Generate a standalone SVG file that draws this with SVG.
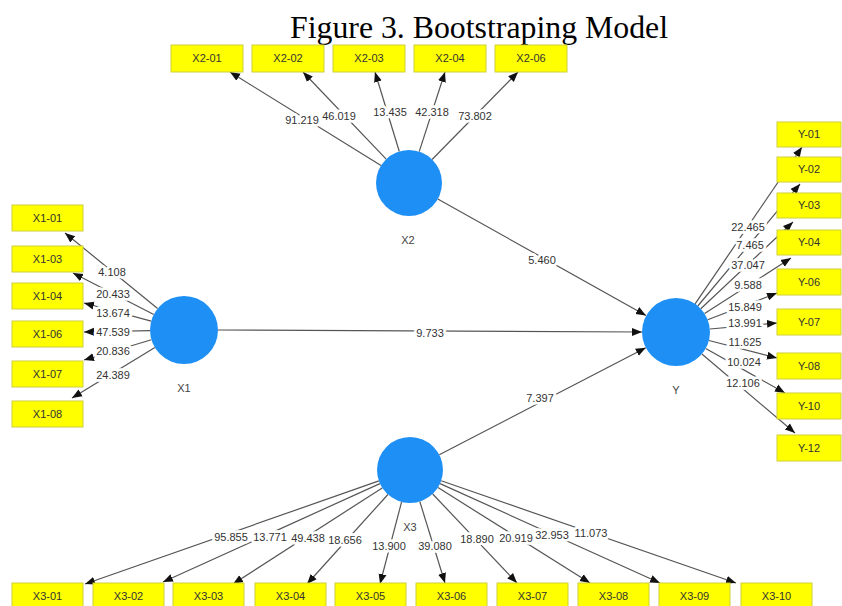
<svg xmlns="http://www.w3.org/2000/svg" width="842" height="606" viewBox="0 0 842 606">
<style>
.title{font-family:"Liberation Serif","Times New Roman",serif;font-size:31.8px;fill:#000}
.box{fill:#ffff00;stroke:#cfcf3a;stroke-width:1}
.bt{font-family:"Liberation Sans",Arial,sans-serif;font-size:11px;fill:#333;text-anchor:middle}
.lv{fill:#1e8ff5}
.lt{font-family:"Liberation Sans",Arial,sans-serif;font-size:11px;fill:#444;text-anchor:middle}
.ln{stroke:#555;stroke-width:1.2;fill:none;marker-end:url(#ah)}
.v{font-family:"Liberation Sans",Arial,sans-serif;font-size:11px;fill:#333;text-anchor:middle;stroke:#fff;stroke-width:5.5px;paint-order:stroke;stroke-linejoin:round}
</style>
<defs>
<marker id="ah" markerUnits="userSpaceOnUse" markerWidth="10" markerHeight="10" viewBox="0 0 10 10" refX="10" refY="5" orient="auto">
<path d="M0,1 L10,5 L0,9 Z" fill="#111"/>
</marker>
</defs>
<rect width="842" height="606" fill="#fff"/>
<text class="title" x="290" y="38">Figure 3. Bootstraping Model</text>

<g id="connectors">
<!-- X2 indicators -->
<line class="ln" x1="381" y1="165.6" x2="230" y2="72"/>
<line class="ln" x1="386.2" y1="159.1" x2="303" y2="72"/>
<line class="ln" x1="399.3" y1="151.5" x2="375" y2="72"/>
<line class="ln" x1="419.2" y1="151.6" x2="445" y2="72"/>
<line class="ln" x1="432.1" y1="159.5" x2="518" y2="72"/>
<!-- X1 indicators -->
<line class="ln" x1="157.6" y1="308.5" x2="65" y2="233"/>
<line class="ln" x1="153.8" y1="314.5" x2="73" y2="273"/>
<line class="ln" x1="151.2" y1="321.1" x2="84" y2="303"/>
<line class="ln" x1="150" y1="330.7" x2="84" y2="332"/>
<line class="ln" x1="151.4" y1="339.8" x2="84" y2="360"/>
<line class="ln" x1="154.9" y1="347.6" x2="72" y2="398"/>
<!-- Y indicators -->
<line class="ln" x1="695.1" y1="303.9" x2="802" y2="147"/>
<line class="ln" x1="697.8" y1="306" x2="800" y2="184"/>
<line class="ln" x1="700.8" y1="308.7" x2="793" y2="222"/>
<line class="ln" x1="704.6" y1="313.6" x2="791" y2="258"/>
<line class="ln" x1="707.7" y1="319.8" x2="777" y2="293"/>
<line class="ln" x1="709.9" y1="329" x2="777" y2="323"/>
<line class="ln" x1="708.9" y1="340.5" x2="777" y2="358"/>
<line class="ln" x1="705.7" y1="348.6" x2="785" y2="393"/>
<line class="ln" x1="701.9" y1="354" x2="795" y2="433"/>
<!-- X3 indicators -->
<line class="ln" x1="378.9" y1="480.9" x2="85" y2="584"/>
<line class="ln" x1="379.9" y1="483.6" x2="163" y2="582"/>
<line class="ln" x1="382.2" y1="487.9" x2="233" y2="584"/>
<line class="ln" x1="387.9" y1="494.5" x2="307" y2="584"/>
<line class="ln" x1="401.6" y1="501.9" x2="380" y2="584"/>
<line class="ln" x1="419.8" y1="501.5" x2="445" y2="583"/>
<line class="ln" x1="432.7" y1="494" x2="517" y2="583"/>
<line class="ln" x1="438" y1="487.6" x2="590" y2="583"/>
<line class="ln" x1="440.1" y1="483.6" x2="660" y2="583"/>
<line class="ln" x1="441.2" y1="480.8" x2="736" y2="583"/>
<!-- structural paths -->
<line class="ln" x1="218" y1="330" x2="642" y2="332"/>
<line class="ln" x1="437.8" y1="199.1" x2="646" y2="315.4"/>
<line class="ln" x1="439.3" y1="454.8" x2="645.8" y2="347.7"/>
<!-- values -->
<text class="v" x="302" y="124">91.219</text>
<text class="v" x="339" y="120">46.019</text>
<text class="v" x="390" y="116">13.435</text>
<text class="v" x="432" y="116">42.318</text>
<text class="v" x="475" y="120">73.802</text>
<text class="v" x="112" y="276">4.108</text>
<text class="v" x="113" y="298">20.433</text>
<text class="v" x="113" y="317">13.674</text>
<text class="v" x="113" y="336">47.539</text>
<text class="v" x="113" y="355">20.836</text>
<text class="v" x="113" y="379">24.389</text>
<text class="v" x="748" y="231">22.465</text>
<text class="v" x="750" y="249">7.465</text>
<text class="v" x="748" y="269">37.047</text>
<text class="v" x="748" y="289">9.588</text>
<text class="v" x="745" y="311">15.849</text>
<text class="v" x="745" y="327">13.991</text>
<text class="v" x="745" y="346">11.625</text>
<text class="v" x="744" y="366">10.024</text>
<text class="v" x="743" y="387">12.106</text>
<text class="v" x="231" y="541">95.855</text>
<text class="v" x="270" y="541">13.771</text>
<text class="v" x="308" y="542">49.438</text>
<text class="v" x="345" y="544">18.656</text>
<text class="v" x="389" y="550">13.900</text>
<text class="v" x="435" y="550">39.080</text>
<text class="v" x="477" y="543">18.890</text>
<text class="v" x="516" y="542">20.919</text>
<text class="v" x="552" y="539">32.953</text>
<text class="v" x="591" y="537">11.073</text>
<text class="v" x="430" y="337">9.733</text>
<text class="v" x="542" y="264">5.460</text>
<text class="v" x="540" y="402">7.397</text>
</g>

<g id="X1">
<circle class="lv" cx="184" cy="330" r="34"/>
<text class="lt" x="184" y="392">X1</text>
</g>
<g id="X2">
<circle class="lv" cx="409" cy="183" r="33"/>
<text class="lt" x="408" y="244">X2</text>
</g>
<g id="X3">
<circle class="lv" cx="410" cy="470" r="33"/>
<text class="lt" x="410" y="531">X3</text>
</g>
<g id="Y">
<circle class="lv" cx="676" cy="332" r="34"/>
<text class="lt" x="676" y="394">Y</text>
</g>

<g id="X2-01"><rect class="box" x="171" y="45" width="72" height="27"/><text class="bt" x="207" y="62">X2-01</text></g>
<g id="X2-02"><rect class="box" x="252" y="45" width="72" height="27"/><text class="bt" x="288" y="62">X2-02</text></g>
<g id="X2-03"><rect class="box" x="333" y="45" width="72" height="27"/><text class="bt" x="369" y="62">X2-03</text></g>
<g id="X2-04"><rect class="box" x="414" y="45" width="72" height="27"/><text class="bt" x="450" y="62">X2-04</text></g>
<g id="X2-06"><rect class="box" x="495" y="45" width="72" height="27"/><text class="bt" x="531" y="62">X2-06</text></g>

<g id="X1-01"><rect class="box" x="12" y="205" width="71" height="26"/><text class="bt" x="47.5" y="222">X1-01</text></g>
<g id="X1-03"><rect class="box" x="12" y="246" width="71" height="26"/><text class="bt" x="47.5" y="263">X1-03</text></g>
<g id="X1-04"><rect class="box" x="12" y="283" width="71" height="26"/><text class="bt" x="47.5" y="300">X1-04</text></g>
<g id="X1-06"><rect class="box" x="12" y="321" width="71" height="26"/><text class="bt" x="47.5" y="338">X1-06</text></g>
<g id="X1-07"><rect class="box" x="12" y="361" width="71" height="26"/><text class="bt" x="47.5" y="378">X1-07</text></g>
<g id="X1-08"><rect class="box" x="12" y="401" width="71" height="26"/><text class="bt" x="47.5" y="418">X1-08</text></g>

<g id="Y-01"><rect class="box" x="777" y="122" width="64" height="25"/><text class="bt" x="809" y="138">Y-01</text></g>
<g id="Y-02"><rect class="box" x="777" y="157" width="64" height="25"/><text class="bt" x="809" y="173">Y-02</text></g>
<g id="Y-03"><rect class="box" x="777" y="193" width="64" height="25"/><text class="bt" x="809" y="209">Y-03</text></g>
<g id="Y-04"><rect class="box" x="777" y="230" width="64" height="25"/><text class="bt" x="809" y="246">Y-04</text></g>
<g id="Y-06"><rect class="box" x="777" y="269" width="64" height="26"/><text class="bt" x="809" y="286">Y-06</text></g>
<g id="Y-07"><rect class="box" x="777" y="309" width="64" height="26"/><text class="bt" x="809" y="326">Y-07</text></g>
<g id="Y-08"><rect class="box" x="777" y="353" width="64" height="26"/><text class="bt" x="809" y="370">Y-08</text></g>
<g id="Y-10"><rect class="box" x="777" y="393" width="64" height="26"/><text class="bt" x="809" y="410">Y-10</text></g>
<g id="Y-12"><rect class="box" x="777" y="435" width="64" height="26"/><text class="bt" x="809" y="452">Y-12</text></g>

<g id="X3-01"><rect class="box" x="12" y="583" width="71" height="26"/><text class="bt" x="47.5" y="600">X3-01</text></g>
<g id="X3-02"><rect class="box" x="93" y="583" width="71" height="26"/><text class="bt" x="128.5" y="600">X3-02</text></g>
<g id="X3-03"><rect class="box" x="173" y="583" width="71" height="26"/><text class="bt" x="208.5" y="600">X3-03</text></g>
<g id="X3-04"><rect class="box" x="255" y="583" width="71" height="26"/><text class="bt" x="290.5" y="600">X3-04</text></g>
<g id="X3-05"><rect class="box" x="335" y="583" width="71" height="26"/><text class="bt" x="370.5" y="600">X3-05</text></g>
<g id="X3-06"><rect class="box" x="416" y="583" width="71" height="26"/><text class="bt" x="451.5" y="600">X3-06</text></g>
<g id="X3-07"><rect class="box" x="497" y="583" width="71" height="26"/><text class="bt" x="532.5" y="600">X3-07</text></g>
<g id="X3-08"><rect class="box" x="578" y="583" width="71" height="26"/><text class="bt" x="613.5" y="600">X3-08</text></g>
<g id="X3-09"><rect class="box" x="659" y="583" width="71" height="26"/><text class="bt" x="694.5" y="600">X3-09</text></g>
<g id="X3-10"><rect class="box" x="741" y="583" width="71" height="26"/><text class="bt" x="776.5" y="600">X3-10</text></g>
</svg>
